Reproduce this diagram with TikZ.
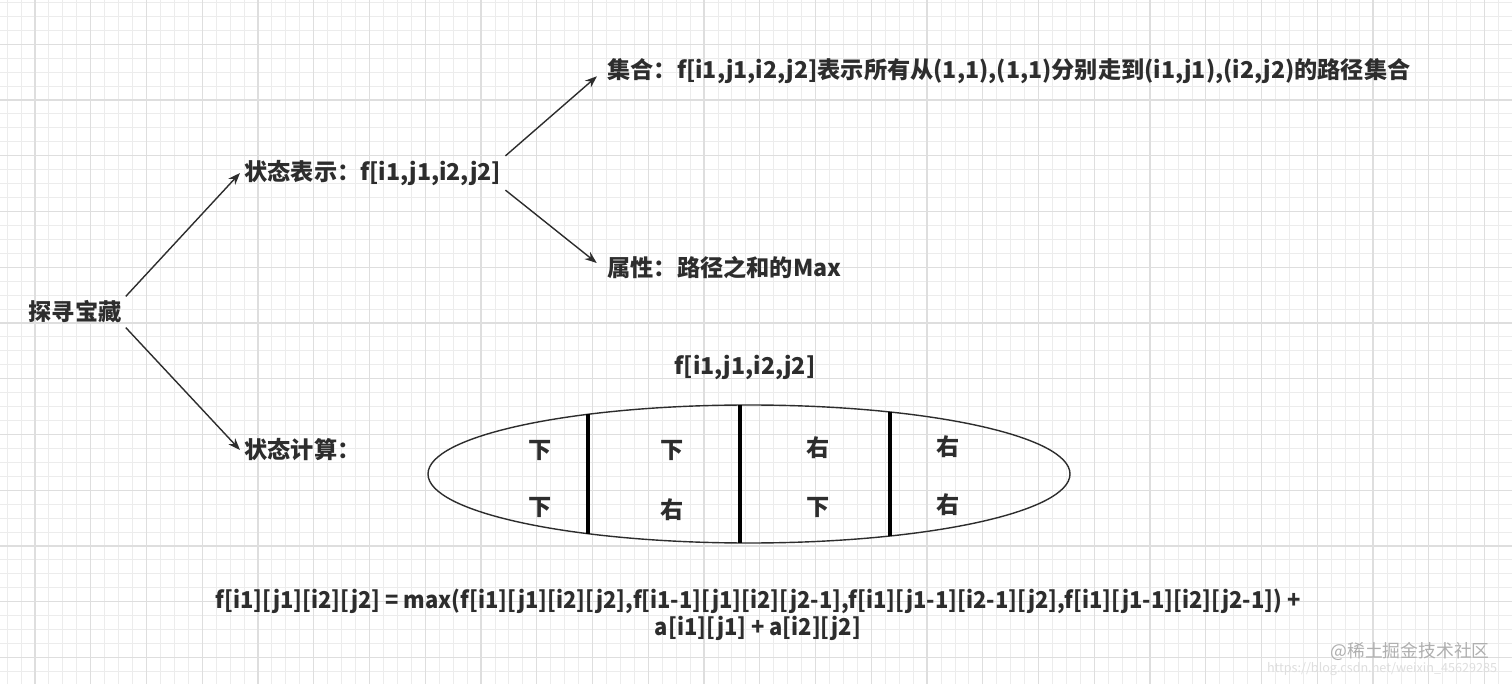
\documentclass[tikz,border=0pt]{standalone}
\usepackage{fontspec}
\setmainfont{Noto Sans CJK SC}
\usetikzlibrary{arrows.meta,shapes.geometric}
\definecolor{ink}{RGB}{45,45,45}
\definecolor{gridminor}{RGB}{236,236,236}
\definecolor{gridmajor}{RGB}{222,222,222}
\definecolor{mark}{RGB}{175,175,175}

\begin{document}
\begin{tikzpicture}[x=0.5pt, y=-0.5pt,
    word/.style={text=ink, font=\fontsize{11.6}{13.8}\selectfont\bfseries, inner sep=2pt},
    arr/.style={draw=ink, line width=0.7pt, -{Stealth[length=6pt,width=4.5pt]}},
    chord/.style={draw=black, line width=1.6pt}]
    \useasboundingbox (0,0) rectangle (1512,684);
    \fill[white] (0,0) rectangle (1512,684);
    % background grid
    \foreach \i in {0,...,108} {
        \draw[gridminor, line width=0.5pt] ({7.1+13.94*\i},0) -- ({7.1+13.94*\i},684);
    }
    \foreach \i in {0,...,49} {
        \draw[gridminor, line width=0.5pt] (0,{2.4+13.94*\i}) -- (1512,{2.4+13.94*\i});
    }
    \foreach \i in {0,...,27} {
        \draw[gridmajor, line width=0.6pt] ({35+55.75*\i},0) -- ({35+55.75*\i},684);
    }
    \foreach \i in {0,...,12} {
        \draw[gridmajor, line width=0.6pt] (0,{44.25+55.75*\i}) -- (1512,{44.25+55.75*\i});
    }

    % tree
    \node[word] (root) at (75,312) {探寻宝藏};
    \node[word, anchor=west] (rep) at (240,173) {状态表示：f[i1,j1,i2,j2]};
    \node[word, anchor=west] (calc) at (240,450) {状态计算：};
    \node[word, anchor=west] (set) at (603,71) {集合：f[i1,j1,i2,j2]表示所有从(1,1),(1,1)分别走到(i1,j1),(i2,j2)的路径集合};
    \node[word, anchor=west] (attr) at (603,268) {属性：路径之和的Max};

    \draw[arr] (root.north east) -- (rep.west);
    \draw[arr] (root.south east) -- (calc.west);
    \draw[arr, shorten >=4pt] (rep.north east) -- (set.west);
    \draw[arr, shorten >=4pt] (rep.south east) -- (attr.west);

    % state transition
    \node[word] (flabel) at (745,367) {f[i1,j1,i2,j2]};
    \node[draw=ink, line width=0.7pt, ellipse, minimum width=321pt, minimum height=69pt,
        inner sep=0pt] (seq) at (749,474) {};
    \draw[chord] (588,414) -- (588,534);
    \draw[chord] (740,405) -- (740,543);
    \draw[chord] (890,412) -- (890,536);
    \node[word] (a1) at (540,450) {下};
    \node[word] (a2) at (540,507) {下};
    \node[word] (b1) at (672,450) {下};
    \node[word] (b2) at (672,510) {右};
    \node[word] (c1) at (818,448) {右};
    \node[word] (c2) at (818,507) {下};
    \node[word] (d1) at (948,447) {右};
    \node[word] (d2) at (948,505) {右};

    \node[word, align=center] (eq) at (758,615)
        {\scalebox{0.946}[1]{f[i1][j1][i2][j2] = max(f[i1][j1][i2][j2],f[i1-1][j1][i2][j2-1],f[i1][j1-1][i2-1][j2],f[i1][j1-1][i2][j2-1]) +}\\
         \scalebox{0.946}[1]{a[i1][j1] + a[i2][j2]}};

    % watermark
    \node[text=mark, font=\fontsize{8.9}{10}\selectfont, inner sep=0pt] (wm) at (1410,651) {@稀土掘金技术社区};
    \node[text=gridmajor, font=\fontsize{6.3}{8}\selectfont, inner sep=0pt] (url) at (1382,669) {https://blog.csdn.net/weixin\_45629285};
\end{tikzpicture}
\end{document}
